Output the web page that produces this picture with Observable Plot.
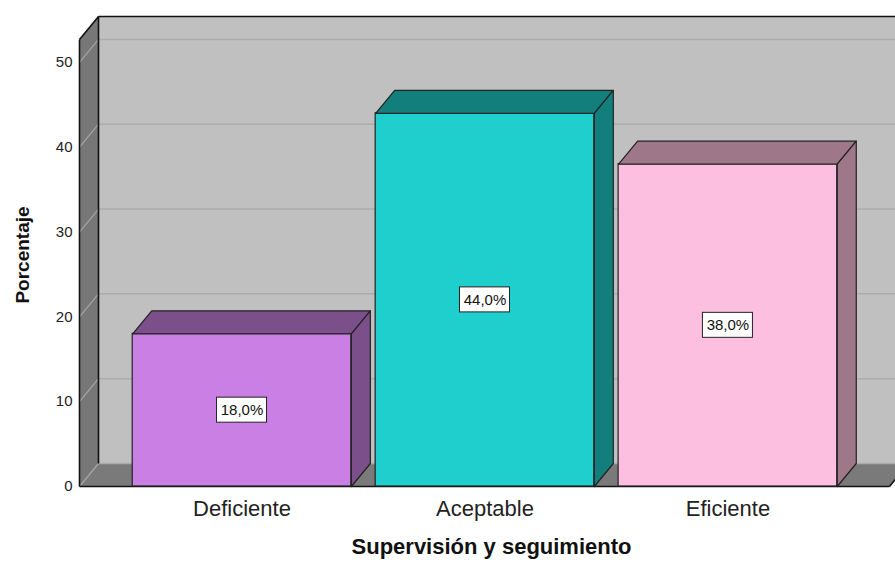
<!DOCTYPE html>
<html>
<head>
<meta charset="utf-8">
<script src="https://cdn.jsdelivr.net/npm/d3@7"></script>
<script src="https://cdn.jsdelivr.net/npm/@observablehq/plot@0.6"></script>
<style>
  html, body { margin: 0; padding: 0; background: #fff; overflow: hidden; }
  #chart svg { display: block; overflow: hidden; max-width: none; }
</style>
</head>
<body>
<div id="chart"></div>
<script>
// Frequencies of "Supervisión y seguimiento" (percent of respondents)
const categories = ["Deficiente", "Aceptable", "Eficiente"];
const percents = [18.0, 44.0, 38.0];
const frontColors = ["#C97FE4", "#1ECFCD", "#FDBFDF"];
const shadeColors = ["#7B4F8A", "#137F7C", "#9E7888"];
const yTicks = [0, 10, 20, 30, 40, 50];

const W = 895, H = 568;
const margin = {top: 39, right: 6, bottom: 82, left: 79};
const xDomain = [-0.669, 2.665];   // category index units (bar centres at 0, 1, 2)
const yDomain = [0, 52.7];
const DEPTH_X = 19, DEPTH_Y = 23;  // 3D depth in pixels
const HALF = 0.45;                 // half bar width, in category units

// convert the pixel depth into data units so the oblique faces stay linear-scale exact
const pxX = (W - margin.left - margin.right) / (xDomain[1] - xDomain[0]);
const pxY = (H - margin.top - margin.bottom) / (yDomain[1] - yDomain[0]);
const ox = DEPTH_X / pxX, oy = DEPTH_Y / pxY;
const [X0, X1] = xDomain;
const YT = yDomain[1];

const bars = categories.map((name, i) => ({
  name, i, value: percents[i], front: frontColors[i], shade: shadeColors[i],
  label: percents[i].toFixed(1).replace(".", ",") + "%"
}));

const poly = (id, fill, pts) => pts.map(([x, y]) => ({id, fill, x, y}));

// side wall and floor of the box
const walls = [
  ...poly("wall-left", "#777777", [[X0, 0], [X0 + ox, oy], [X0 + ox, YT + oy], [X0, YT]]),
  ...poly("floor", "#7a7a7a", [[X0, 0], [X1, 0], [X1 + ox, oy], [X0 + ox, oy]])
];

// top and right faces of each bar
const faces = bars.flatMap(b => {
  const l = b.i - HALF, r = b.i + HALF, v = b.value;
  return [
    ...poly(b.name + "-top", b.shade, [[l, v], [r, v], [r + ox, v + oy], [l + ox, v + oy], [l, v]]),
    ...poly(b.name + "-side", b.shade, [[r, 0], [r + ox, oy], [r + ox, v + oy], [r, v], [r, 0]])
  ];
});

// outline of the box
const edges = [
  {x1: X0, y1: 0, x2: X0, y2: YT},
  {x1: X0, y1: YT, x2: X0 + ox, y2: YT + oy},
  {x1: X0 + ox, y1: oy, x2: X0 + ox, y2: YT + oy},
  {x1: X0 + ox, y1: YT + oy, x2: X1 + ox + 1, y2: YT + oy},
  {x1: X0, y1: 0, x2: X1, y2: 0},
  {x1: X1, y1: 0, x2: X1 + ox, y2: oy}
];

const boxW = 25 / pxX, boxH = 12.5 / pxY;
const font = "'Liberation Sans', Arial, sans-serif";

const chart = Plot.plot({
  width: W,
  height: H,
  marginTop: margin.top,
  marginRight: margin.right,
  marginBottom: margin.bottom,
  marginLeft: margin.left,
  x: {domain: xDomain},
  y: {domain: yDomain},
  color: {type: "identity"},
  style: {fontFamily: font, color: "#222", background: "#fff"},
  marks: [
    // back wall
    Plot.rect([0], {x1: X0 + ox, x2: X1 + ox + 1, y1: oy, y2: YT + oy, fill: "#c0c0c0"}),
    Plot.line(walls, {x: "x", y: "y", z: "id", fill: "fill", stroke: "none"}),
    // gridlines on back wall and side wall
    Plot.ruleY(yTicks, {y: t => t + oy, x1: X0 + ox, x2: X1 + ox + 1, stroke: "#acacac", strokeWidth: 1.5}),
    Plot.link(yTicks, {x1: X0, y1: t => t, x2: X0 + ox, y2: t => t + oy, stroke: "#a6a6a6", strokeWidth: 1.2}),
    Plot.link(edges, {x1: "x1", y1: "y1", x2: "x2", y2: "y2", stroke: "#111", strokeWidth: 1.6}),
    // bars
    Plot.rect(bars, {x1: d => d.i - HALF, x2: d => d.i + HALF, y1: 0, y2: "value",
      fill: "front", stroke: "#222", strokeWidth: 1.2}),
    Plot.line(faces, {x: "x", y: "y", z: "id", fill: "fill", stroke: "#222", strokeWidth: 1.2}),
    // value labels
    Plot.rect(bars, {x1: d => d.i - boxW, x2: d => d.i + boxW,
      y1: d => d.value / 2 - boxH, y2: d => d.value / 2 + boxH,
      fill: "#fff", stroke: "#222", strokeWidth: 1}),
    Plot.text(bars, {x: "i", y: d => d.value / 2, text: "label", fontSize: 15, fill: "#111"}),
    // axes
    Plot.axisY(yTicks, {tickSize: 0, tickPadding: 7, fontSize: 15, label: null, fill: "#222"}),
    Plot.axisX([0, 1, 2], {tickFormat: i => categories[i], tickSize: 0, tickPadding: 14,
      fontSize: 22, label: null, fill: "#222"}),
    Plot.text(["Porcentaje"], {frameAnchor: "left", textAnchor: "middle", dx: -57, dy: -8, rotate: -90,
      fontSize: 19, fontWeight: "bold", fill: "#111"}),
    Plot.text(["Supervisión y seguimiento"], {frameAnchor: "bottom", dx: 7, dy: 67,
      fontSize: 22, fontWeight: "bold", letterSpacing: 0.2, fill: "#111"})
  ]
});

document.getElementById("chart").append(chart);
</script>
</body>
</html>
